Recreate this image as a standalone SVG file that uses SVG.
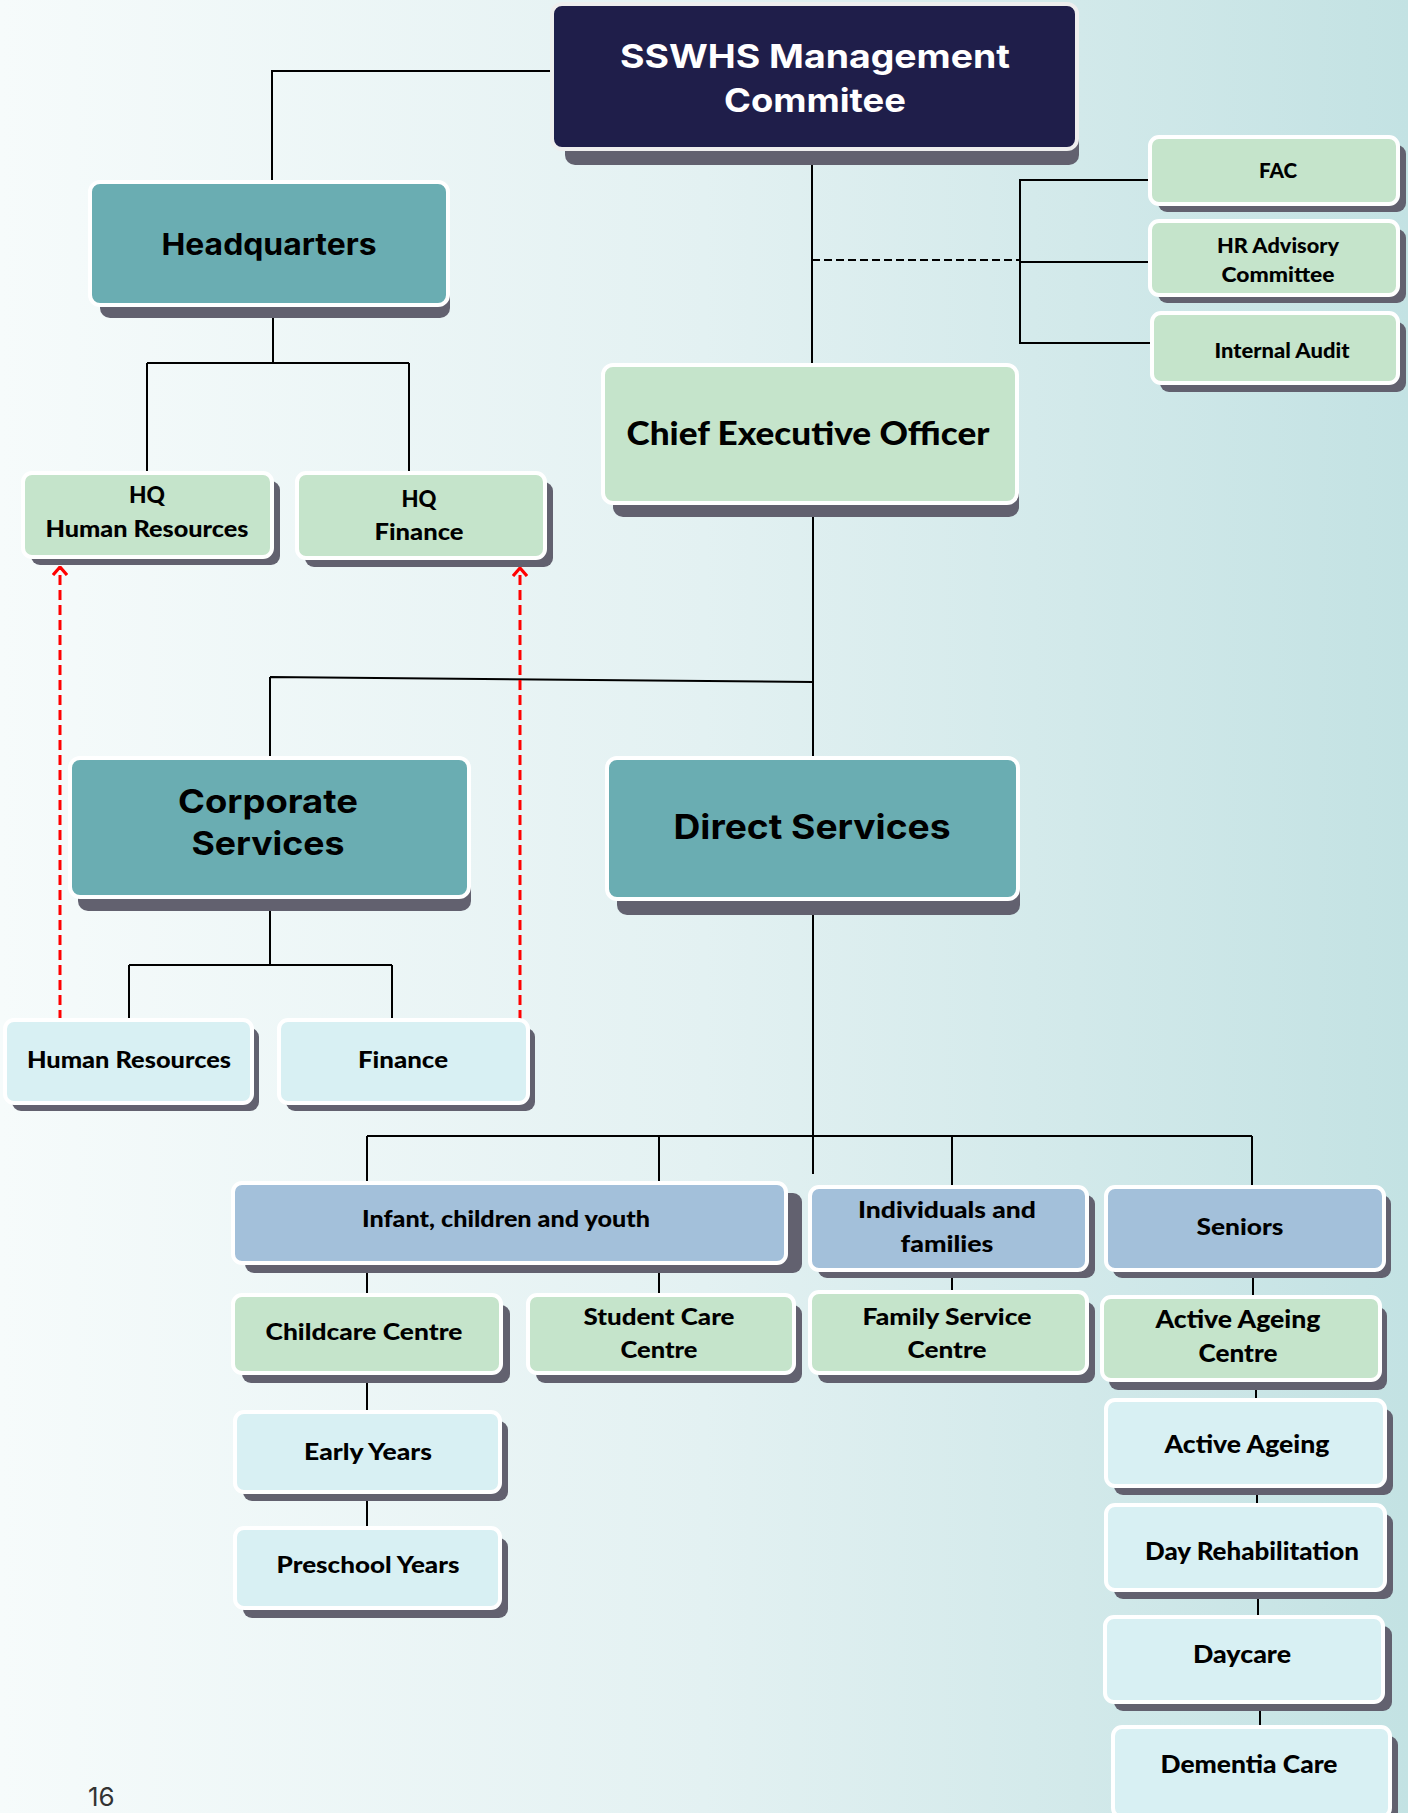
<svg xmlns="http://www.w3.org/2000/svg" width="1408" height="1813" viewBox="0 0 1408 1813">
<defs>
<linearGradient id="bg" x1="0" y1="0" x2="1" y2="0">
<stop offset="0" stop-color="#f6fbfb"/>
<stop offset="0.5" stop-color="#e3f1f2"/>
<stop offset="1" stop-color="#c3e2e3"/>
</linearGradient>
<marker id="arr" viewBox="0 0 10 16" refX="9" refY="8" markerWidth="10" markerHeight="16" markerUnits="userSpaceOnUse" orient="auto">
<path d="M1,1 L9,8 L1,15" fill="none" stroke="#ff0000" stroke-width="3.2"/>
</marker>
</defs>
<style>
.sh{fill:#62616f}
.bx{stroke:#ffffff;stroke-width:4}
.top{fill:#1f1e4a;stroke:#eeeeee}
.teal{fill:#6aadb2}
.grn{fill:#c5e4cb}
.lb{fill:#d8f0f3}
.bl{fill:#a3c0da}
.h{font-family:Inter,"Liberation Sans",sans-serif;font-weight:700;text-anchor:middle;fill:#000}
.w{fill:#ffffff}
.g{font-family:Lato,"Liberation Sans",sans-serif;font-weight:900;text-anchor:middle;fill:#000}
.ln{fill:none;stroke:#000;stroke-width:2}
.rd{fill:none;stroke:#ff0000;stroke-width:3;stroke-dasharray:10 5}
</style>
<rect x="0" y="0" width="1408" height="1813" fill="url(#bg)"/>

<g id="connectors">
<path class="ln" d="M552,71 H272 V182"/>
<path class="ln" d="M812,160 V365"/>
<path class="ln" d="M812,260 H1020" stroke-dasharray="8 4"/>
<path class="ln" d="M1150,180 H1020 V343 H1152 M1020,262 H1150"/>
<path class="ln" d="M273,310 V363 M147,363 H409 M147,363 V473 M409,363 V473"/>
<path class="ln" d="M813,510 V758 M270,677 L813,682 M270,677 V758"/>
<path class="ln" d="M270,905 V965 M129,965 H392 M129,965 V1020 M392,965 V1020"/>
<path class="ln" d="M813,905 V1174 M367,1136 H1252 M367,1136 V1183 M659,1136 V1183 M952,1136 V1187 M1252,1136 V1187"/>
<path class="ln" d="M367,1270 V1295 M659,1270 V1295 M952,1275 V1292 M1253,1275 V1297"/>
<path class="ln" d="M367,1380 V1412 M367,1498 V1528"/>
<path class="ln" d="M1256,1385 V1400 M1257,1490 V1505 M1258,1595 V1617 M1260,1705 V1727"/>
<path class="rd" d="M60,1020 V567" marker-end="url(#arr)"/>
<path class="rd" d="M520,1020 V568" marker-end="url(#arr)"/>
</g>

<g id="sswhs">
<rect class="sh" x="565" y="20" width="514" height="145" rx="10"/>
<rect class="bx top" x="552" y="4" width="525" height="145" rx="10"/>
<text class="h w" x="815" y="68" font-size="33" textLength="390" lengthAdjust="spacingAndGlyphs">SSWHS Management</text>
<text class="h w" x="815" y="112" font-size="33" textLength="182" lengthAdjust="spacingAndGlyphs">Commitee</text>
</g>

<g id="headquarters">
<rect class="sh" x="100" y="195" width="350" height="123" rx="10"/>
<rect class="bx teal" x="90" y="182" width="358" height="123" rx="10" stroke="#eef2f2"/>
<text class="h" x="269" y="255" font-size="30" textLength="215" lengthAdjust="spacingAndGlyphs">Headquarters</text>
</g>

<g id="hq-hr">
<rect class="sh" x="31" y="481" width="249" height="84" rx="9"/>
<rect class="bx grn" x="23" y="473" width="249" height="84" rx="9" stroke="#eef2f2"/>
<text class="g" x="147" y="503" font-size="23" textLength="36" lengthAdjust="spacingAndGlyphs">HQ</text>
<text class="g" x="147" y="537" font-size="23" textLength="203" lengthAdjust="spacingAndGlyphs">Human Resources</text>
</g>

<g id="hq-finance">
<rect class="sh" x="305" y="482" width="248" height="85" rx="9"/>
<rect class="bx grn" x="297" y="473" width="248" height="85" rx="9" stroke="#eef2f2"/>
<text class="g" x="419" y="507" font-size="23" textLength="35" lengthAdjust="spacingAndGlyphs">HQ</text>
<text class="g" x="419" y="540" font-size="23" textLength="89" lengthAdjust="spacingAndGlyphs">Finance</text>
</g>

<g id="fac">
<rect class="sh" x="1158" y="145" width="248" height="67" rx="9"/>
<rect class="bx grn" x="1150" y="137" width="248" height="67" rx="9" stroke="#eef2f2"/>
<text class="g" x="1278" y="178" font-size="20" textLength="38" lengthAdjust="spacingAndGlyphs">FAC</text>
</g>

<g id="hr-advisory">
<rect class="sh" x="1158" y="229" width="248" height="74" rx="9"/>
<rect class="bx grn" x="1150" y="221" width="248" height="74" rx="9" stroke="#eef2f2"/>
<text class="g" x="1278" y="253" font-size="21" textLength="122" lengthAdjust="spacingAndGlyphs">HR Advisory</text>
<text class="g" x="1278" y="282" font-size="21" textLength="113" lengthAdjust="spacingAndGlyphs">Committee</text>
</g>

<g id="internal-audit">
<rect class="sh" x="1160" y="322" width="246" height="70" rx="9"/>
<rect class="bx grn" x="1152" y="313" width="246" height="70" rx="9" stroke="#eef2f2"/>
<text class="g" x="1282" y="358" font-size="21" textLength="135" lengthAdjust="spacingAndGlyphs">Internal Audit</text>
</g>

<g id="ceo">
<rect class="sh" x="613" y="379" width="406" height="138" rx="10"/>
<rect class="bx grn" x="603" y="365" width="414" height="138" rx="10" stroke="#eef2f2"/>
<text class="g" x="808" y="445" font-size="33" textLength="363" lengthAdjust="spacingAndGlyphs">Chief Executive Officer</text>
</g>

<g id="corporate-services">
<rect class="sh" x="78" y="772" width="393" height="139" rx="10"/>
<rect class="bx teal" x="70" y="758" width="399" height="139" rx="10"/>
<text class="h" x="268" y="813" font-size="33" textLength="180" lengthAdjust="spacingAndGlyphs">Corporate</text>
<text class="h" x="268" y="855" font-size="33" textLength="153" lengthAdjust="spacingAndGlyphs">Services</text>
</g>

<g id="direct-services">
<rect class="sh" x="617" y="774" width="403" height="141" rx="10"/>
<rect class="bx teal" x="607" y="758" width="411" height="141" rx="10"/>
<text class="h" x="812" y="839" font-size="34" textLength="277" lengthAdjust="spacingAndGlyphs">Direct Services</text>
</g>

<g id="human-resources">
<rect class="sh" x="12" y="1028" width="247" height="83" rx="9"/>
<rect class="bx lb" x="5" y="1020" width="247" height="83" rx="9"/>
<text class="g" x="129" y="1068" font-size="23" textLength="204" lengthAdjust="spacingAndGlyphs">Human Resources</text>
</g>

<g id="finance">
<rect class="sh" x="286" y="1028" width="249" height="83" rx="9"/>
<rect class="bx lb" x="279" y="1020" width="249" height="83" rx="9"/>
<text class="g" x="403" y="1068" font-size="23" textLength="90" lengthAdjust="spacingAndGlyphs">Finance</text>
</g>

<g id="infant">
<rect class="sh" x="245" y="1193" width="557" height="80" rx="9"/>
<rect class="bx bl" x="233" y="1183" width="553" height="80" rx="9"/>
<text class="g" x="506" y="1227" font-size="22" textLength="288" lengthAdjust="spacingAndGlyphs">Infant, children and youth</text>
</g>

<g id="individuals">
<rect class="sh" x="818" y="1195" width="277" height="83" rx="9"/>
<rect class="bx bl" x="810" y="1187" width="277" height="83" rx="9"/>
<text class="g" x="947" y="1218" font-size="23" textLength="178" lengthAdjust="spacingAndGlyphs">Individuals and</text>
<text class="g" x="947" y="1252" font-size="23" textLength="93" lengthAdjust="spacingAndGlyphs">families</text>
</g>

<g id="seniors">
<rect class="sh" x="1113" y="1195" width="278" height="83" rx="9"/>
<rect class="bx bl" x="1106" y="1187" width="278" height="83" rx="9"/>
<text class="g" x="1240" y="1235" font-size="23" textLength="87" lengthAdjust="spacingAndGlyphs">Seniors</text>
</g>

<g id="childcare">
<rect class="sh" x="242" y="1305" width="268" height="78" rx="9"/>
<rect class="bx grn" x="233" y="1295" width="268" height="78" rx="9"/>
<text class="g" x="364" y="1340" font-size="23" textLength="197" lengthAdjust="spacingAndGlyphs">Childcare Centre</text>
</g>

<g id="student-care">
<rect class="sh" x="536" y="1305" width="266" height="78" rx="9"/>
<rect class="bx grn" x="528" y="1295" width="266" height="78" rx="9"/>
<text class="g" x="659" y="1325" font-size="23" textLength="151" lengthAdjust="spacingAndGlyphs">Student Care</text>
<text class="g" x="659" y="1358" font-size="23" textLength="77" lengthAdjust="spacingAndGlyphs">Centre</text>
</g>

<g id="family-service">
<rect class="sh" x="818" y="1302" width="277" height="81" rx="9"/>
<rect class="bx grn" x="810" y="1292" width="277" height="81" rx="9"/>
<text class="g" x="947" y="1325" font-size="23" textLength="169" lengthAdjust="spacingAndGlyphs">Family Service</text>
<text class="g" x="947" y="1358" font-size="23" textLength="79" lengthAdjust="spacingAndGlyphs">Centre</text>
</g>

<g id="active-ageing-centre">
<rect class="sh" x="1109" y="1307" width="278" height="83" rx="9"/>
<rect class="bx grn" x="1102" y="1297" width="278" height="83" rx="9"/>
<text class="g" x="1238" y="1328" font-size="24" textLength="165" lengthAdjust="spacingAndGlyphs">Active Ageing</text>
<text class="g" x="1238" y="1362" font-size="24" textLength="79" lengthAdjust="spacingAndGlyphs">Centre</text>
</g>

<g id="early-years">
<rect class="sh" x="243" y="1421" width="265" height="80" rx="9"/>
<rect class="bx lb" x="235" y="1412" width="265" height="80" rx="9"/>
<text class="g" x="368" y="1460" font-size="23" textLength="128" lengthAdjust="spacingAndGlyphs">Early Years</text>
</g>

<g id="preschool-years">
<rect class="sh" x="243" y="1538" width="265" height="80" rx="9"/>
<rect class="bx lb" x="235" y="1528" width="265" height="80" rx="9"/>
<text class="g" x="368" y="1573" font-size="23" textLength="183" lengthAdjust="spacingAndGlyphs">Preschool Years</text>
</g>

<g id="active-ageing">
<rect class="sh" x="1114" y="1409" width="279" height="86" rx="9"/>
<rect class="bx lb" x="1106" y="1400" width="279" height="86" rx="9"/>
<text class="g" x="1247" y="1453" font-size="24" textLength="165" lengthAdjust="spacingAndGlyphs">Active Ageing</text>
</g>

<g id="day-rehabilitation">
<rect class="sh" x="1114" y="1514" width="279" height="85" rx="9"/>
<rect class="bx lb" x="1106" y="1505" width="279" height="85" rx="9"/>
<text class="g" x="1252" y="1560" font-size="24" textLength="214" lengthAdjust="spacingAndGlyphs">Day Rehabilitation</text>
</g>

<g id="daycare">
<rect class="sh" x="1114" y="1626" width="278" height="85" rx="9"/>
<rect class="bx lb" x="1105" y="1617" width="278" height="85" rx="9"/>
<text class="g" x="1242" y="1663" font-size="24" textLength="98" lengthAdjust="spacingAndGlyphs">Daycare</text>
</g>

<g id="dementia-care">
<rect class="sh" x="1121" y="1736" width="277" height="90" rx="9"/>
<rect class="bx lb" x="1113" y="1727" width="277" height="90" rx="9"/>
<text class="g" x="1249" y="1773" font-size="24" textLength="177" lengthAdjust="spacingAndGlyphs">Dementia Care</text>
</g>

<text x="88" y="1806" font-family="Inter,'Liberation Sans',sans-serif" font-size="26" fill="#333">16</text>
</svg>
